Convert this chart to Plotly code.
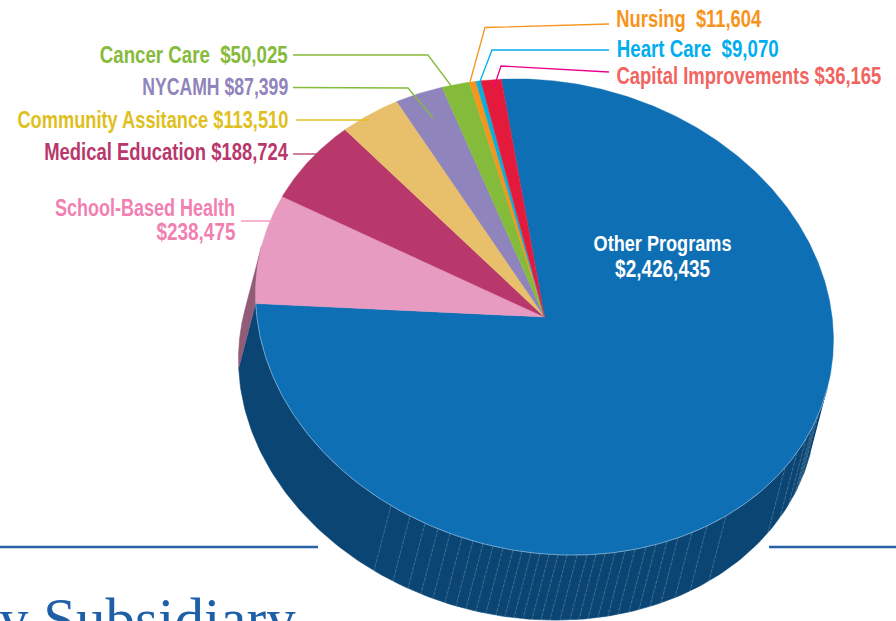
import json
import numpy as np
import plotly.graph_objects as go

# ---- data ----
categories = ["Other Programs", "School-Based Health", "Medical Education", "Community Assitance",
              "NYCAMH", "Cancer Care", "Nursing", "Heart Care", "Capital Improvements"]
values = [2426435, 238475, 188724, 113510, 87399, 50025, 11604, 9070, 36165]
slice_colors = ["#0f6fb5", "#e89bc0", "#b8386c", "#e8c06c", "#8f84bb", "#85bb3a", "#f7941d", "#0baed8", "#e41a3c"]
text_colors = ["#ffffff", "#f27fb2", "#b8386c", "#e0c020", "#8f84bb", "#85bb3a", "#f7941d", "#00aeef", "#f1645f"]
label_gap = ["", "", " ", " ", " ", "\u00a0\u00a0", "\u00a0\u00a0", "\u00a0\u00a0", " "]

# ---- pie geometry (sheared ellipse seen from above) ----
CX, CY = 544.5, 317.0
A, B, S = 289.0, 237.0, 23.0
DX, DY = -17.0, 65.0
START = -98.6


def top(t):
    r = np.radians(t)
    return CX + A * np.cos(r), CY + B * np.sin(r) + S * np.cos(r)


def low(t):
    x, y = top(t)
    return x + DX, y + DY


vals = np.array(values, dtype=float)
edges = START + np.concatenate([[0], np.cumsum(vals / vals.sum() * 360)])
tangent = np.degrees(np.arctan(-DX * B / (DY * A - DX * S)))
left_tan = tangent + 180

fig = go.Figure()


def poly(x, y, color, lw=0.6):
    fig.add_trace(go.Scatter(x=x, y=y, mode="lines", fill="toself", fillcolor=color,
                             line=dict(color=color, width=lw), hoverinfo="skip", showlegend=False))


def wall(a, b, color):
    t = np.linspace(a, b, 160)
    xt, yt = top(t)
    xb, yb = low(t[::-1])
    poly(np.r_[xt, xb], np.r_[yt, yb], color)


# horizontal rules behind the pie
for xs in ([0, 318], [769, 896]):
    fig.add_trace(go.Scatter(x=xs, y=[547, 547], mode="lines", line=dict(color="#2a62a8", width=2.5),
                             hoverinfo="skip", showlegend=False))

# side walls
wall(tangent, edges[1], "#0a4573")
wall(edges[1], left_tan, "#915c78")

# facet lines on the wall
stripe_x = [391, 410, 425, 438, 450, 462, 473, 483, 493, 503, 513, 522, 531, 540, 549, 558, 567, 577, 587,
            596, 605, 615, 625, 635, 646, 656, 667, 678, 692, 707, 726, 785, 797, 806, 812, 815, 818]
sx, sy = [], []
for xv in stripe_x:
    t = np.degrees(np.arccos((xv - CX) / A))
    x0, y0 = top(t)
    x1, y1 = low(t)
    sx += [x0, x1, None]
    sy += [y0, y1, None]
fig.add_trace(go.Scatter(x=sx, y=sy, mode="lines", line=dict(color="rgba(255,255,255,0.28)", width=0.8, dash="4px,1px"),
                         hoverinfo="skip", showlegend=False))

# top face
for i, c in enumerate(slice_colors):
    t = np.linspace(edges[i], edges[i + 1], max(4, int((edges[i + 1] - edges[i]) * 2)))
    x, y = top(t)
    poly(np.r_[CX, x, CX], np.r_[CY, y, CY], c, 0.4)

# light rim on the front edge
t = np.linspace(tangent, edges[1], 200)
x, y = top(t)
fig.add_trace(go.Scatter(x=x, y=y, mode="lines", line=dict(color="rgba(190,215,235,0.65)", width=0.8),
                         hoverinfo="skip", showlegend=False))

# leader lines
leaders = [
    ([293, 428, 452], [55, 55, 87], "#85bb3a"),
    ([293, 408, 433], [87.5, 88, 118], "#85bb3a"),
    ([296, 370], [120, 120], "#e0c020"),
    ([293, 320], [154, 154], "#b8386c"),
    ([241, 285], [221, 221], "#f49ac1"),
    ([609, 485, 470], [24, 27.5, 82], "#f7941d"),
    ([609, 492, 479], [50, 50, 84], "#00aeef"),
    ([609, 501, 494], [72, 66, 87], "#ec008c"),
]
for lx, ly, lc in leaders:
    fig.add_trace(go.Scatter(x=lx, y=ly, mode="lines", line=dict(color=lc, width=1.3),
                             hoverinfo="skip", showlegend=False))

FONT = "Liberation Sans"
SIZE = 23
squeeze = {}


def label(text, left, width, y, color):
    """Condensed bold label spanning left..left+width."""
    squeeze[text] = width
    fig.add_annotation(x=left + width / 2, y=y, text=text, showarrow=False, xanchor="center", yanchor="middle",
                       font=dict(family=FONT, size=SIZE, color=color, weight="bold"), borderpad=0, borderwidth=0)


def money(i):
    return f"${values[i]:,}"


# placement per label: left, width, y
placement = {5: (100, 188, 54.5), 4: (142, 146, 86.5), 3: (17, 271, 119.5), 2: (44, 244, 151.5),
             6: (616, 145, 18.5), 7: (616, 162, 48.5), 8: (616, 265, 75.5)}
for i, (lx, w, ly) in placement.items():
    label(f"{categories[i]}{label_gap[i]}{money(i)}", lx, w, ly, text_colors[i])
label(categories[1], 55, 180, 207.5, text_colors[1])
label(money(1), 156, 79, 231.5, text_colors[1])
label(categories[0], 593, 138, 242.5, text_colors[0])
label(money(0), 615, 95, 268.5, text_colors[0])

# cut-off heading at the bottom of the page
fig.add_annotation(x=296, y=619, text="y Subsidiary", showarrow=False, xanchor="right", yanchor="middle",
                   font=dict(family="Liberation Serif", size=59, color="#1f5fa8"), borderpad=0, borderwidth=0)

fig.update_layout(
    width=896, height=621, autosize=False, margin=dict(l=0, r=0, t=0, b=0),
    paper_bgcolor="white", plot_bgcolor="white", showlegend=False,
    xaxis=dict(range=[0, 896], visible=False, fixedrange=True),
    yaxis=dict(range=[621, 0], visible=False, fixedrange=True),
)

post = """
document.documentElement.style.margin = '0';
document.body.style.margin = '0';
document.body.style.overflow = 'hidden';
var W = %s;
document.querySelectorAll('.annotation-text').forEach(function (t) {
  var w = W[t.textContent];
  if (w) {
    var b = t.getBBox();
    var cx = b.x + b.width / 2;
    var k = w / t.getComputedTextLength();
    t.setAttribute('transform', 'translate(' + cx + ',0) scale(' + k + ',1) translate(' + (-cx) + ',0)');
  }
});
""" % json.dumps(squeeze)
fig.write_html("out.html", config=dict(displayModeBar=False), post_script=post)
